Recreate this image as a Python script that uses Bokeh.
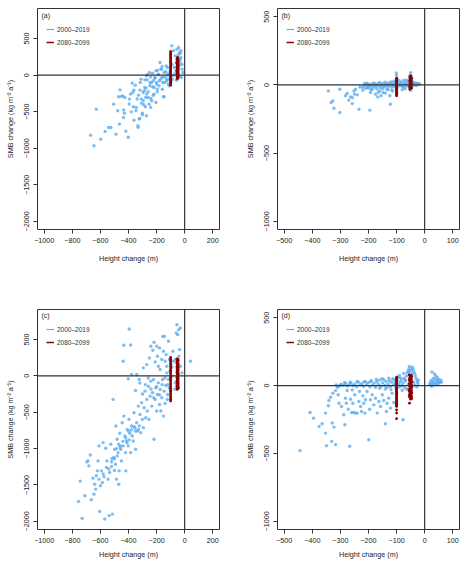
from bokeh.plotting import figure
from bokeh.layouts import gridplot
from bokeh.models import Range1d, FixedTicker, Span, Label, Legend, LegendItem
from bokeh.embed import file_html
from bokeh.resources import INLINE

# ------------------------------------------------------------------ data
legend_labels = ["2000\u20132019", "2080\u20132099"]
panel_labels = ["(a)", "(b)", "(c)", "(d)"]
x_label = "Height change (m)"
y_label = "SMB change (kg m\u207b\u00b2 a\u207b\u00b9)"

x_ticks_ac = [-1000, -800, -600, -400, -200, 0, 200]
y_ticks_ac = [-2000, -1500, -1000, -500, 0, 500]
x_ticks_bd = [-500, -400, -300, -200, -100, 0, 100]
y_ticks_bd = [-1000, -500, 0, 500]

red_col1_x = -100   # first column of 2080-2099 values

# panel (a)
a_blue_x = [-646, -670, -598, -629, -566, -542, -525, -489, -506, -465,
            -460, -477, -441, -436, -429, -470, -419, -402, -393, -381,
            -369, -361, -352, -345, -333, -328, -320, -316, -308, -301,
            -296, -292, -284, -277, -272, -267, -260, -253, -248, -241,
            -236, -229, -224, -217, -212, -205, -200, -195, -188, -183,
            -176, -171, -164, -159, -152, -147, -140, -135, -128, -123,
            -116, -111, -161, -195, -243, -272, -284, -362, -386, -374,
            -338, -302, -287, -259, -251, -242, -235, -228, -218, -211,
            -204, -194, -187, -180, -170, -163, -156, -146, -139, -132,
            -127, -120, -115, -108, -103, -151, -450, -434, -426, -395,
            -366, -347, -331, -323, -318, -311, -307, -295, -280, -275,
            -271, -266, -247, -223, -199, -92, -80, -67, -55, -43,
            -36, -27, -31, -60, -75, -84, -99, -104, -19, -24,
            -51, -39, -27, -12, -43, -30, -45, -35, -62, -70,
            -90, -20, -48, -58, -88]
a_blue_y = [-967, -821, -876, -465, -771, -716, -716, -807, -397, -670,
            -201, -488, -283, -579, -520, -296, -768, -850, -328, -502,
            -237, -616, -137, -442, -693, -274, -593, -100, -328, -520,
            -237, -406, -169, -306, -556, -64, -228, -397, -146, -319,
            -100, 27, -274, -169, -32, -374, -100, -228, 14, -146,
            173, -55, 82, -192, -23, -296, -100, 46, -55, 105,
            0, -146, 119, 64, -27, -9, -64, -205, -259, -109,
            -327, -541, -214, -305, 36, -441, -350, -159, -259, -41,
            59, -191, 5, -77, 82, -32, -100, 36, -23, 127,
            -77, 14, -123, -55, 59, -295, -291, -477, -305, -395,
            -432, -486, -714, -600, -205, -55, -386, -350, -432, -177,
            -259, 5, -100, -77, -123, 401, 333, 264, 356, 378,
            310, 333, 219, 173, 105, -9, -100, 36, 82, -32,
            -55, 128, 242, 36, -9, 300, 280, 180, 60, 20,
            150, 150, -30, -70, -60]
a_red1_y = [-137, -118, -100, -82, -63, -45, -27, -8, 10, 28, 47, 65, 83,
            102, 120, 138, 157, 175, 193, 212, 230, 248, 267, 285, 303, 322]
a_red2_x = [-54, -50, -46, -52, -48, -55, -47, -51, -54, -50, -46, -52,
            -48, -55, -47, -51, -54, -50, -46, -52, -48, -55, -47, -51,
            -54, -50, -46, -52, -48, -55, -47, -51, -54, -50, -46, -52,
            -48, -55, -47, -51, -54, -50]
a_red2_y = [-46, -39, -32, -25, -18, -11, -4, 3, 10, 17, 24, 31, 38, 45,
            52, 59, 66, 73, 80, 87, 94, 101, 108, 115, 122, 129, 136, 143,
            150, 157, 164, 171, 178, 185, 192, 199, 206, 213, 220, 227, 234,
            242]

# panel (b)
b_blue_x = [-343, -327, -333, -323, -302, -302, -282, -276, -270, -264,
            -258, -252, -250, -246, -240, -234, -231, -222, -217, -214,
            -207, -202, -205, -199, -195, -193, -187, -175, -167, -160,
            -155, -148, -134, -124, -122, -116, -257,
            -210, -205, -200, -196, -190, -186, -182, -178, -175, -170,
            -166, -162, -158, -155, -150, -147, -143, -140, -137, -133,
            -130, -127, -124, -121, -118, -115, -112, -109, -106, -103,
            -100, -98, -100, -101, -99, -96, -93, -90, -87, -84,
            -81, -78, -75, -72, -69, -66, -63, -60, -57, -54,
            -52, -50, -48, -46, -50, -53, -45, -42, -40, -38,
            -35, -32, -30, -27, -24, -21, -18, -180, -160, -140,
            -120, -110, -90, -75, -65, -220, -210, -190, -170, -150,
            -130, -115, -140, -165, -80, -70]
b_blue_y = [-44, -117, -129, -171, -202, -32, -80, -63, -112, -88,
            -137, -44, -68, -32, -73, -178, -15, -20, -7, 10,
            5, 0, -20, -24, -185, -56, -32, -68, -88, -44,
            -80, -56, -32, -80, -141, -39, -93,
            2, 12, -8, 5, -12, 8, -5, -18, 3, -10,
            10, -3, -20, 5, -8, 12, -15, 2, -5, 8,
            -12, 15, -2, 6, -18, 10, -6, 3, -12, 18,
            -25, 40, 70, 88, -60, 5, -8, 12, -3, 20,
            -10, 6, -15, 15, 2, -6, 25, 10, -12, 45,
            70, 90, 60, 30, -40, -20, 8, 20, -5, 12,
            3, 15, -4, 8, 2, 10, 5, 15, 18, 20,
            22, 28, 30, 32, 35, -40, -25, -35, -30, -28,
            -35, -45, -60, -55, -35, -28]
b_red1_y = [-80, -72, -64, -56, -48, -40, -32, -24, -16, -8, 0, 8, 16, 24,
            32, 40, 49]
b_red2_x = [-53, -49, -46, -51, -54, -48, -50, -46, -53, -49, -51, -47,
            -54, -50, -48, -52, -46, -50, -53, -49]
b_red2_y = [-32, -27, -22, -17, -12, -7, -2, 3, 8, 13, 18, 23, 28, 33, 38,
            43, 48, 54, 60, 66]

# panel (c)
c_blue_x = [-756, -730, -744, -711, -696, -689, -682, -672, -665, -653,
            -646, -641, -634, -629, -622, -617, -610, -605, -600, -593,
            -586, -581, -574, -569, -562, -557, -553, -545, -538, -534,
            -526, -521, -517, -514, -510, -505, -498, -493, -490, -486,
            -481, -474, -469, -467, -462, -457, -450, -445, -438, -433,
            -426, -421, -419, -414, -409, -402, -397, -390, -385, -378,
            -373, -366, -361, -354, -349, -342, -337, -330, -323, -318,
            -313, -306, -301, -294, -289, -282, -277, -270, -266, -258,
            -254, -246, -241, -234, -229, -222, -218, -210, -206, -199,
            -194, -187, -179, -175, -170, -163, -158, -151, -146, -139,
            -134, -127, -122, -115, -110, -395, -433, -385, -438, -378,
            -402, -342, -323, -294, -270, -251, -241, -227, -218, -210,
            -199, -194, -187, -179, -175, -163, -156, -151, -144, -139,
            -132, -127, -115, -108, -98, -91, -84, -79, -55, -43,
            -50, -36, -31, -60, -41, -65, -31, -19, 41, -67,
            -55, -520, -500, -480, -460, -440, -420, -400, -380, -360,
            -350, -330, -470, -455, -540, -580, -610, -500, -485, -395,
            -410, -350, -320, -300, -280, -260, -240, -220, -200, -180,
            -160, -140, -120, -100, -105, -90, -124, -70, -45]
c_blue_y = [-1726, -1959, -1447, -1648, -1183, -1169, -1237, -1087, -1703, -1406,
            -1626, -1489, -1557, -1374, -1306, -1169, -963, -1863, -1511, -1306,
            -1466, -918, -1388, -1968, -995, -1260, -1169, -1420, -1922, -1329,
            -941, -1247, -1137, -1900, -324, -1123, -1009, -1215, -689, -1420,
            -872, -1055, -1489, -1306, -790, -963, -1169, -644, -963, -553,
            -826, -1055, -1306, -895, -735, -963, -598, -790, -1055, -689,
            -826, -895, -507, -717, -1009, -644, -758, -416, -689, -530,
            -781, -370, -598, -712, -438, -210, -575, -324, -484, -142,
            -598, -279, -73, -416, -233, -50, -872, -324, -164, -484,
            -256, -96, -393, -187, -484, -301, -50, -553, -210, -379,
            -132, 41, -256, -50, -164, 644, 420, 425, 201, 18,
            -41, 18, -50, 110, 155, 247, 406, 352, 461, 192,
            406, 269, 132, 384, 87, 224, 543, 338, 543, 201,
            292, 132, 475, 224, 155, -5, 338, 201, 703, 635,
            566, 361, 658, 589, 269, 224, 132, 41, 201, -96,
            -142, -1180, -1140, -1100, -980, -900, -850, -760, -740, -700,
            -760, -740, -940, -1010, -1280, -1350, -1420, -1300, -1000, -880,
            -920, -200, -100, -250, -120, -30, -180, -300, -150, -260,
            -120, -30, -120, -200, 60, 120, -324, -180, -160]
c_red1_y = [-347, -322, -297, -272, -247, -222, -197, -172, -147, -122, -97,
            -72, -47, -22, 3, 28, 53, 78, 103, 128, 153, 178, 203, 228, 253]
c_red2_x = [-54, -50, -46, -52, -48, -55, -47, -51, -54, -50, -46, -52,
            -48, -55, -47, -51, -54, -50, -46, -52, -48, -55, -47, -51,
            -54, -50, -46, -52, -48, -55, -47, -51, -54, -50, -46, -52,
            -48, -55, -47, -51, -54, -50, -46, -52, -48, -55, -47, -51,
            -54, -50, -46, -52, -48, -55]
c_red2_y = [-187, -179, -171, -163, -155, -147, -139, -131, -123, -115, -107,
            -99, -91, -83, -75, -67, -59, -51, -43, -35, -27, -19, -11, -3,
            5, 13, 21, 29, 37, 45, 53, 61, 69, 77, 85, 93, 101, 109, 117,
            125, 133, 141, 149, 157, 165, 173, 181, 189, 197, 205, 213, 221,
            229, 233]

# panel (d)
d_sparse_x = [-444, -408, -396, -376, -365, -353, -353, -350, -343, -341,
              -335, -331, -329, -327, -323, -317, -317, -311, -308, -305,
              -299, -296, -288, -284, -282, -279, -276, -272, -267, -264,
              -260, -258, -256, -252, -249, -246, -240, -234, -232, -228,
              -225, -220, -217, -213, -211, -205, -199, -196, -193, -187,
              -181, -175, -169, -163, -157, -151, -146, -140, -136, -134,
              -128, -122, -116, -110, -77]
d_sparse_y = [-479, -198, -240, -301, -281, -350, -203, -443, -149, -110,
              -86, -411, -276, -56, -306, -435, -37, -12, -68, -130,
              5, -154, -215, -289, -93, -130, -37, -174, -447, -100,
              -198, -32, -130, -198, -68, -203, -203, -117, -44, -154,
              -191, -76, -130, -203, -105, -44, -399, -174, -105, -68,
              -142, -93, -203, -117, -154, -68, -110, -281, -191, -130,
              -93, -166, -56, -125, -252]
d_band_x = [-315, -305, -298, -290, -282, -275, -268, -262, -255, -248,
            -242, -236, -230, -224, -218, -212, -206, -200, -195, -190,
            -185, -180, -175, -170, -165, -160, -155, -150, -146, -142,
            -138, -134, -130, -126, -122, -118, -114, -110, -106, -102,
            -98, -95, -92, -89, -86, -83, -80, -77, -74, -71,
            -68, -65, -62, -59, -56, -53, -48, -45, -42, -39,
            -36, -33, -30, -27, -24, -22, -28, -35, -40, -46,
            -58, -64, -70, -88, -108, -128, -152, -172, -192, -215,
            -240, -265, -285, -120, -140, -160, -80, -60, -90, -75,
            -55, -45]
d_band_y = [5, -5, 10, 2, 15, -3, 8, 20, 0, 12,
            -8, 25, 5, 15, -5, 30, 10, 22, -10, 35,
            5, 18, -12, 28, 8, 40, -5, 20, 45, 0,
            30, -15, 12, 38, -8, 25, 50, 5, 18, -20,
            35, 60, 10, -10, 28, 45, 0, 20, 55, -15,
            35, 70, 95, 110, 120, 100, 115, 85, 125, 105,
            90, 70, 50, 30, 15, 40, -10, 5, 25, -5,
            10, -25, 45, 60, 40, 55, 50, 45, 30, 28,
            30, 25, 22, -30, -25, -20, -35, -30, 75, 90,
            140, 135]
d_right_x = [18, 20, 22, 24, 26, 28, 30, 32, 34, 36, 38, 40, 42, 44, 46, 48,
             50, 52, 55, 58, 35, 45, 60, 25]
d_right_y = [10, 25, 5, 40, 100, 15, 30, 55, 20, 5, 45, 70, 10, 25, 35, 15,
             45, 20, 30, 40, 85, 60, 25, -5]
d_blue_x = d_sparse_x + d_band_x + d_right_x
d_blue_y = d_sparse_y + d_band_y + d_right_y
d_red1_y = [-244, -203, -180, -154, -146, -138, -130, -122, -114, -106, -98,
            -90, -82, -74, -66, -58, -50, -42, -34, -26, -18, -10, -2, 6,
            14, 22, 30, 38, 46, 54, 61]
d_red2_x = [-54, -50, -46, -52, -48, -55, -47, -51, -54, -50, -46, -52,
            -48, -55, -47, -51, -54, -50, -46, -52, -48, -55, -47, -51,
            -54, -50, -46, -52, -48, -55, -47, -51, -54, -50, -46, -52,
            -48, -55]
d_red2_y = [-130, -100, -95, -90, -85, -80, -75, -70, -65, -60, -55, -50,
            -45, -40, -35, -30, -25, -20, -15, -10, -5, 0, 5, 10, 15, 20,
            25, 30, 35, 40, 45, 50, 55, 60, 65, 70, 75, 78]

# ------------------------------------------------------------------ style
FONT = "Liberation Sans"
BLUE = "#5CACEE"
RED = "#8B0000"
TXT = "#222222"
LINE = "#333333"


def make_panel(label, bx, by, r1y, r2x, r2y, xr, yr, xt, yt,
               w, h, left, right, top, bottom, xlab_standoff):
    p = figure(width=w, height=h, output_backend="svg", toolbar_location=None,
               x_range=Range1d(*xr), y_range=Range1d(*yr),
               min_border_left=left, min_border_right=right,
               min_border_top=top, min_border_bottom=bottom)
    p.xgrid.visible = False
    p.ygrid.visible = False
    p.outline_line_color = LINE
    p.outline_line_width = 1
    p.background_fill_color = "white"

    p.scatter(bx, by, marker="circle", size=3.4, fill_color=BLUE,
              fill_alpha=0.8, line_color=None)
    r1x = [red_col1_x] * len(r1y)
    p.scatter(r1x, r1y, marker="circle", size=2.8,
              fill_color=RED, line_color=None)
    p.scatter(r2x, r2y, marker="circle", size=2.8, fill_color=RED,
              line_color=None)

    p.add_layout(Span(location=0, dimension="width", line_color=LINE,
                      line_width=1.2))
    p.add_layout(Span(location=0, dimension="height", line_color=LINE,
                      line_width=1.2))

    # hidden line renderers, only used for the line-style legend keys
    l1 = p.line(bx, by, line_color=BLUE, line_width=1.1, visible=False)
    l2 = p.line(r2x, r2y, line_color=RED, line_width=1.5, visible=False)
    leg = Legend(items=[LegendItem(label=legend_labels[0], renderers=[l1]),
                        LegendItem(label=legend_labels[1], renderers=[l2])],
                 location=(9, 182), padding=0, margin=0, spacing=3,
                 glyph_width=8, glyph_height=10, label_height=10,
                 label_standoff=3, border_line_color=None,
                 background_fill_alpha=0, inactive_fill_alpha=0,
                 label_text_font=FONT, click_policy="none",
                 label_text_font_size="6.5px", label_text_color="#333333")
    p.add_layout(leg)

    p.add_layout(Label(x=4, y=214, x_units="screen", y_units="screen",
                       text=label, text_font=FONT, text_font_size="7px",
                       text_color=TXT, text_baseline="middle",
                       text_align="left"))

    for ax, ticks in ((p.xaxis, xt), (p.yaxis, yt)):
        ax.ticker = FixedTicker(ticks=ticks)
        ax.minor_tick_line_color = None
        ax.major_tick_in = 0
        ax.major_tick_out = 4
        ax.major_tick_line_color = LINE
        ax.axis_line_color = None
        ax.major_label_text_font = FONT
        ax.major_label_text_font_size = "7.2px"
        ax.major_label_text_color = TXT
        ax.axis_label_text_font = FONT
        ax.axis_label_text_font_size = "7.2px"
        ax.axis_label_text_font_style = "normal"
        ax.axis_label_text_color = TXT
        ax.major_label_standoff = 4
    p.xaxis.axis_label = x_label
    p.xaxis.axis_label_standoff = xlab_standoff
    p.yaxis.axis_label = y_label
    p.yaxis.axis_label_standoff = 7
    p.yaxis.major_label_orientation = "vertical"
    return p


rng_ac = ((-1048, 248), (-2112, 912))
rng_bd = ((-524, 124), (-1060, 560))

pa = make_panel(panel_labels[0], a_blue_x, a_blue_y, a_red1_y, a_red2_x, a_red2_y,
                rng_ac[0], rng_ac[1], x_ticks_ac, y_ticks_ac,
                232, 280, 37, 13, 8, 51, 8)
pb = make_panel(panel_labels[1], b_blue_x, b_blue_y, b_red1_y, b_red2_x, b_red2_y,
                rng_bd[0], rng_bd[1], x_ticks_bd, y_ticks_bd,
                233, 280, 45, 6, 8, 51, 8)
pc = make_panel(panel_labels[2], c_blue_x, c_blue_y, c_red1_y, c_red2_x, c_red2_y,
                rng_ac[0], rng_ac[1], x_ticks_ac, y_ticks_ac,
                232, 281, 37, 13, 29, 31, 4)
pd = make_panel(panel_labels[3], d_blue_x, d_blue_y, d_red1_y, d_red2_x, d_red2_y,
                rng_bd[0], rng_bd[1], x_ticks_bd, y_ticks_bd,
                233, 281, 45, 6, 29, 31, 4)

grid = gridplot([[pa, pb], [pc, pd]], toolbar_location=None)

open("out.html", "w").write(file_html(grid, INLINE))
